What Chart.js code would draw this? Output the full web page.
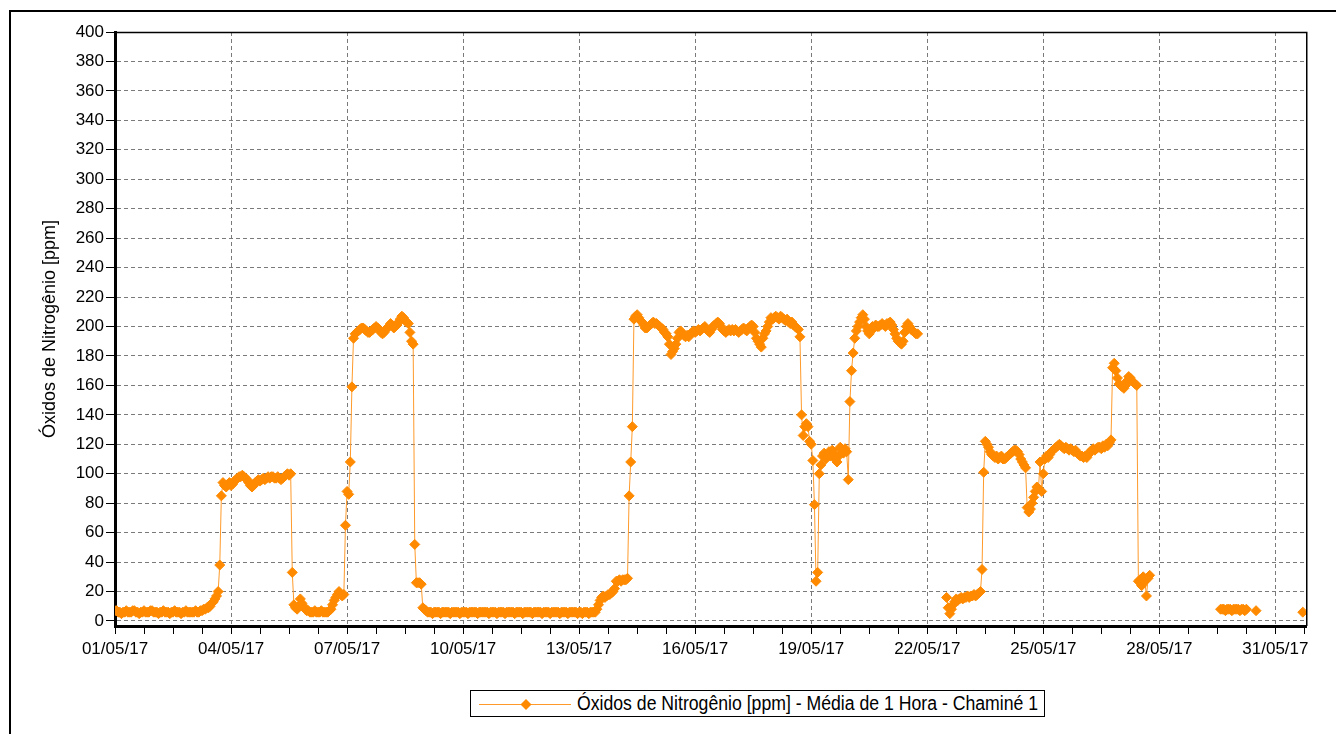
<!DOCTYPE html>
<html>
<head>
<meta charset="utf-8">
<script src="https://cdn.jsdelivr.net/npm/chart.js@4.4.1/dist/chart.umd.min.js"></script>
<style>
  html, body { margin: 0; padding: 0; background: #fff; width: 1336px; height: 734px; overflow: hidden; }
  #frame { position: absolute; left: 9px; top: 10px; width: 2000px; height: 2000px; border-left: 2px solid #000; border-top: 2px solid #000; }
  #wrap { position: absolute; left: 0; top: 0; width: 1336px; height: 734px; }
  #legend { position: absolute; left: 470px; top: 690px; width: 573px; height: 25px; border: 1px solid #000; background: #fff;
            font-family: 'Liberation Sans', Arial, sans-serif; font-size: 19.5px; line-height: 25px; color: #000; }
  #legend svg { position: absolute; left: 0; top: 0; }
  #legend span { position: absolute; left: 106px; top: 0px; white-space: nowrap; transform: scaleX(0.905); transform-origin: 0 50%; }
</style>
</head>
<body>
<div id="frame"></div>
<div id="wrap"><canvas id="c" width="1336" height="734"></canvas></div>
<div id="legend">
  <svg width="104" height="25"><line x1="8" y1="13.5" x2="100" y2="13.5" stroke="#FF9A2A" stroke-width="1"/><polygon points="55,8 60.5,13.5 55,19 49.5,13.5" fill="#FF8A00"/></svg>
  <span id="legendText"></span>
</div>
<script>
// ---- Data: hourly NOx values (ppm), one array per day of May 2017 (index = hour 0..23) ----
const seriesLabel = 'Óxidos de Nitrogênio [ppm] - Média de 1 Hora - Chaminé 1';
const axisTitle = 'Óxidos de Nitrogênio [ppm]';
const monthSuffix = '/05/17';
const yTicks = [0,20,40,60,80,100,120,140,160,180,200,220,240,260,280,300,320,340,360,380,400];

const may01 = [7,7,6,6,5,6,6,7,6,6,6,7,7,6,6,5,6,6,7,6,6,6,7,7];
const may02 = [6,6,6,5,6,6,7,6,6,6,5,6,6,7,6,6,6,5,6,6,7,6,6,6];
const may03 = [6,6,7,6,6,7,7,8,8,9,9,10,12,13,15,17,20,38,85,94,92,91,93,94];
const may04 = [92,93,95,96,97,98,98,99,98,97,96,94,92,91,92,94,95,96,95,96,97,96,97,98];
const may05 = [97,98,98,97,97,98,97,96,97,98,99,100,99,100,33,11,9,8,10,15,12,10,8,7];
const may06 = [7,6,6,6,7,6,6,6,7,6,6,6,6,7,8,11,14,16,18,20,18,17,18,65];
const may07 = [88,86,108,159,192,195,196,197,198,199,199,198,197,196,196,197,198,199,200,199,198,196,195,196];
const may08 = [198,199,200,202,201,199,200,201,203,205,207,206,204,203,202,196,190,188,52,26,26,26,25,9];
const may09 = [8,7,6,6,6,5,6,6,6,6,5,6,6,6,6,6,5,6,6,6,6,6,5,6];
const may10 = [6,6,6,5,6,6,6,6,6,5,6,6,6,6,6,6,5,6,6,6,6,5,6,6];
const may11 = [6,6,5,6,6,6,6,6,5,6,6,6,6,5,6,6,6,6,6,5,6,6,6,6];
const may12 = [6,5,6,6,6,6,5,6,6,6,6,6,5,6,6,6,6,5,6,6,6,6,6,5];
const may13 = [6,6,5,6,6,6,5,6,6,6,6,8,11,14,16,17,16,17,18,18,19,20,22,27];
const may14 = [27,28,27,28,28,28,29,85,108,132,205,207,208,206,204,203,201,199,199,200,201,202,203,202];
const may15 = [202,201,200,199,198,196,195,193,188,181,183,185,188,192,196,197,195,194,193,194,193,195,196,197];
const may16 = [196,197,198,197,198,199,200,198,197,196,198,200,201,202,203,202,200,198,197,196,197,198,197,198];
const may17 = [197,198,197,196,197,198,199,198,197,199,200,201,200,196,192,190,188,186,192,195,197,200,203,206];
const may18 = [205,206,207,206,205,207,206,205,204,205,203,202,203,201,200,199,198,193,140,126,132,134,132,122];
const may19 = [120,109,79,27,33,100,106,112,114,110,113,115,112,116,114,110,108,112,118,116,114,117,115,96];
const may20 = [149,170,182,192,197,200,203,206,208,205,200,197,195,198,200,199,201,200,200,201,202,201,200,202];
const may21 = [202,203,201,198,195,192,190,189,188,190,196,200,202,200,198,197,196,195,195,null,null,null,null,null];
const may22 = [null,null,null,null,null,null,null,null,null,null,null,null,16,9,5,8,11,13,15,14,15,16,15,16];
const may23 = [16,17,16,17,17,18,17,18,19,20,35,101,122,120,118,115,113,112,111,112,110,111,112,110];
const may24 = [110,111,112,113,114,115,116,116,115,113,110,108,106,104,77,74,76,80,84,88,91,90,108,88];
const may25 = [100,110,112,111,113,115,116,117,118,119,120,119,118,117,118,117,116,117,116,115,116,114,113,112];
const may26 = [112,111,112,111,113,115,116,117,116,117,118,118,117,119,118,120,119,121,123,172,175,170,165,161];
const may27 = [160,159,158,160,163,166,165,163,162,161,160,27,28,24,30,27,17,29,31,null,null,null,null,null];
const may28 = [null,null,null,null,null,null,null,null,null,null,null,null,null,null,null,null,null,null,null,null,null,null,null,null];
const may29 = [null,null,null,null,null,null,null,null,null,null,null,null,null,null,8,8,8,7,8,8,8,7,8,8];
const may30 = [8,8,7,8,8,7,8,null,null,null,null,null,7,null,null,null,null,null,null,null,null,null,null,null];
const may31 = [null,null,null,null,null,null,null,null,null,null,null,null,null,null,null,null,null,6,null];

const dayArrays = [may01,may02,may03,may04,may05,may06,may07,may08,may09,may10,may11,may12,may13,may14,may15,
  may16,may17,may18,may19,may20,may21,may22,may23,may24,may25,may26,may27,may28,may29,may30,may31];

const points = [];
dayArrays.forEach((arr, d) => arr.forEach((v, h) => points.push({ x: d * 24 + h, y: v })));

document.getElementById('legendText').textContent = seriesLabel;

const sans = "'Liberation Sans', Arial, sans-serif";
const pad2 = n => (n < 10 ? '0' : '') + n;

const framePlugin = {
  id: 'frame',
  afterDraw(chart) {
    const { ctx, chartArea: a } = chart;
    ctx.save();
    ctx.strokeStyle = '#000';
    ctx.lineWidth = 1.5;
    ctx.beginPath();
    ctx.moveTo(a.left, a.top + 0.5);
    ctx.lineTo(a.right + 0.75, a.top + 0.5);
    ctx.lineTo(a.right + 0.75, a.bottom);
    ctx.stroke();
    ctx.restore();
  }
};

new Chart(document.getElementById('c'), {
  type: 'line',
  data: {
    datasets: [{
      label: seriesLabel,
      data: points,
      borderColor: '#FF9A2A',
      borderWidth: 1,
      pointStyle: 'rectRot',
      pointRadius: 5,
      pointBackgroundColor: '#FF8A00',
      pointBorderColor: '#FF8A00',
      pointBorderWidth: 1,
      pointHoverRadius: 5,
      spanGaps: false,
      tension: 0,
      clip: 0
    }]
  },
  options: {
    responsive: false,
    animation: false,
    events: [],
    layout: { padding: { left: 0, top: 32, right: 30, bottom: 0 } },
    plugins: { legend: { display: false }, tooltip: { enabled: false } },
    scales: {
      x: {
        type: 'linear',
        min: 0,
        max: 739,
        afterBuildTicks: s => { s.ticks = []; for (let v = 0; v <= 738; v += 18) s.ticks.push({ value: v }); },
        afterFit: s => { s.height = 108; },
        ticks: {
          autoSkip: false, maxRotation: 0, minRotation: 0, padding: 5, color: '#000',
          font: { family: sans, size: 17 },
          callback: v => (v % 72 === 0 ? pad2(v / 24 + 1) + monthSuffix : '')
        },
        grid: {
          color: c => (c.tick && c.tick.value % 72 === 0 && c.tick.value !== 0) ? '#7a7a7a' : 'rgba(0,0,0,0)',
          tickColor: '#000', tickLength: 8, lineWidth: 1, tickWidth: 1
        },
        border: { color: '#000', width: 3, dash: [4, 3] }
      },
      y: {
        type: 'linear',
        min: -3.4,
        max: 400,
        afterBuildTicks: s => { s.ticks = yTicks.map(v => ({ value: v })); },
        afterFit: s => { s.width = 115; },
        ticks: { padding: 2, color: '#000', font: { family: sans, size: 17 } },
        grid: { color: '#7a7a7a', tickColor: '#000', tickLength: 9, lineWidth: 1, tickWidth: 1 },
        border: { color: '#000', width: 3, dash: [4, 3] },
        title: {
          display: true, text: axisTitle, color: '#000',
          font: { family: sans, size: 18 },
          padding: { top: 39, bottom: 0 }
        }
      }
    }
  },
  plugins: [framePlugin]
});
</script>
</body>
</html>
